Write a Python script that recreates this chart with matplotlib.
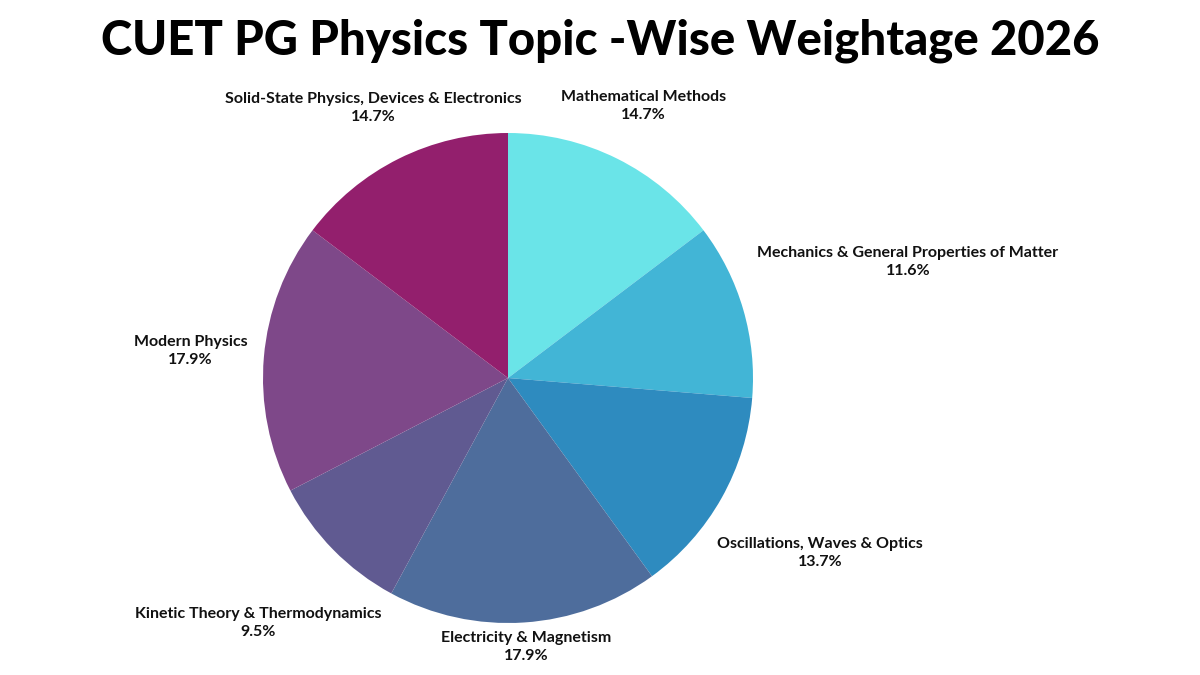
import numpy as np
import matplotlib
matplotlib.use("Agg")
import matplotlib.pyplot as plt

topics = ["Mathematical Methods", "Mechanics & General Properties of Matter",
          "Oscillations, Waves & Optics", "Electricity & Magnetism",
          "Kinetic Theory & Thermodynamics", "Modern Physics",
          "Solid-State Physics, Devices & Electronics"]
shares = [14.7, 11.6, 13.7, 17.9, 9.5, 17.9, 14.7]
colors = ["#6ae4e8", "#42b5d6", "#2e8bbf", "#4e6d9c", "#605a91", "#7e4889", "#931f6d"]
# how far out each label sits, in pie radii
label_dist = [1.24, 1.70, 1.46, 1.10, 1.43, 1.30, 1.23]

W, H, cx, cy, r = 1200, 675, 508, 378, 245
fig = plt.figure(figsize=(12, 6.75), dpi=100)
ax = fig.add_axes([0, 0, 1, 1])
ax.axis("off")

ax.pie(shares, colors=colors, startangle=90, counterclock=False, radius=1,
       wedgeprops=dict(linewidth=0))
ax.set_xlim(-cx / r, (W - cx) / r)
ax.set_ylim(-(H - cy) / r, cy / r)

start = 90.0
for name, val, d in zip(topics, shares, label_dist):
    mid = np.deg2rad(start - val * 3.6 / 2)
    start -= val * 3.6
    ax.text(d * np.cos(mid), d * np.sin(mid), f"{name}\n{val}%", ha="center", va="center",
            fontsize=11.5, fontweight="bold", family=["Lato", "DejaVu Sans"],
            color="#111111", linespacing=1.35)

fig.text(0.5, 0.94, "CUET PG Physics Topic -Wise Weightage 2026", ha="center", va="center",
         fontsize=34, fontweight="black", family=["Lato", "DejaVu Sans"], color="black")

fig.savefig("out.png", dpi=100, facecolor="white")
